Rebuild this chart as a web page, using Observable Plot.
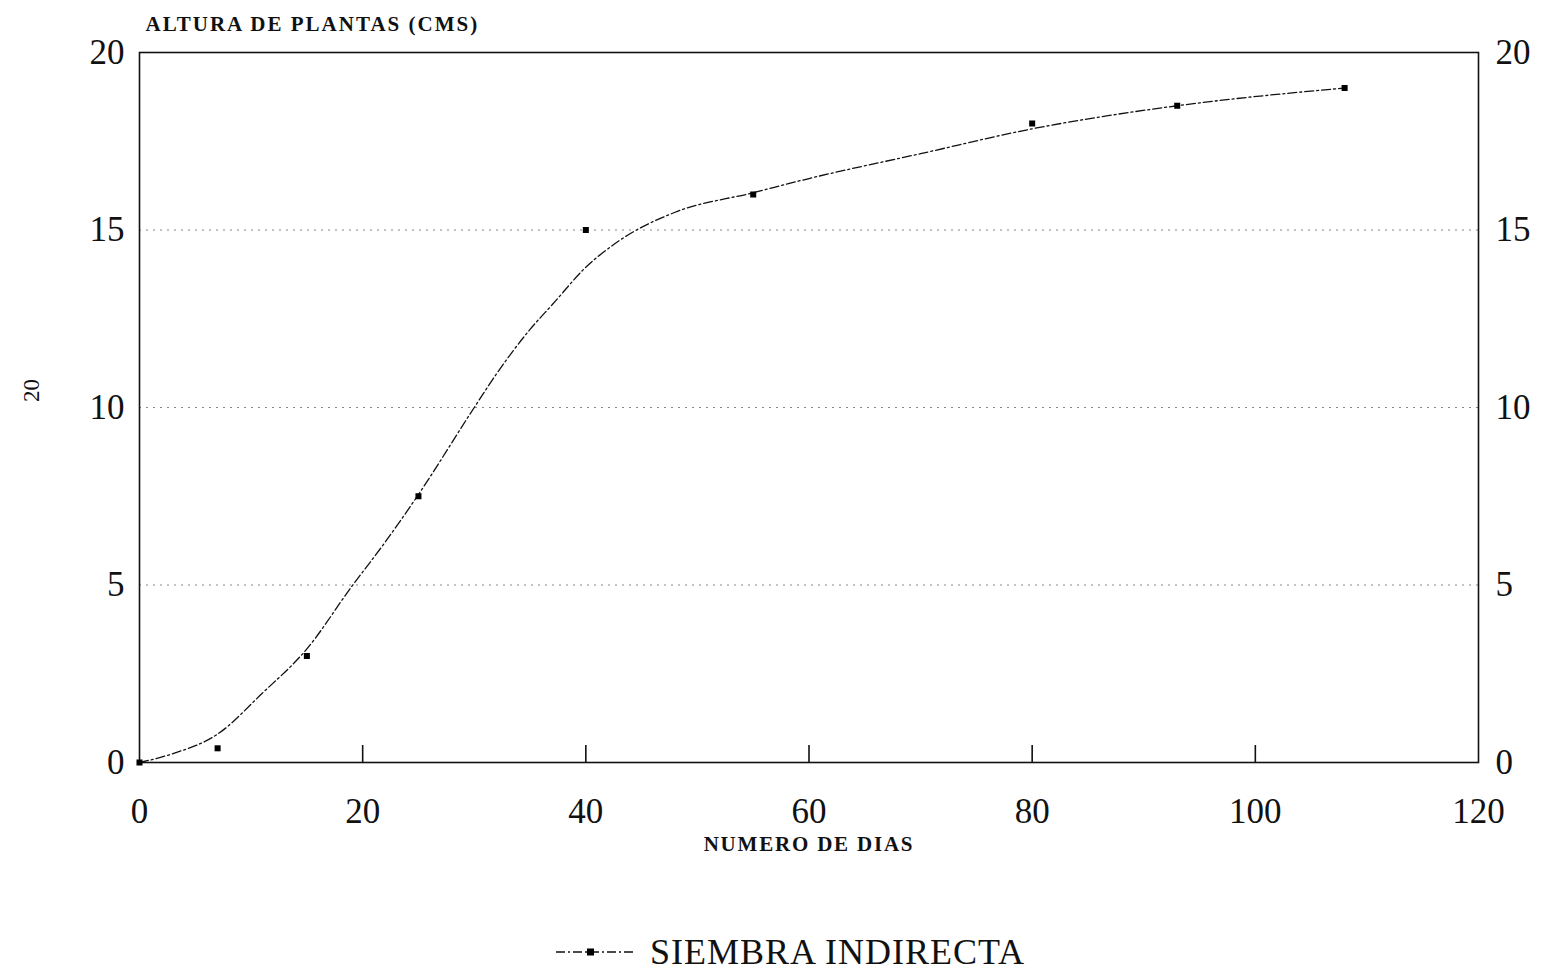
<!DOCTYPE html>
<html>
<head>
<meta charset="utf-8">
<script src="https://cdn.jsdelivr.net/npm/d3@7"></script>
<script src="https://cdn.jsdelivr.net/npm/@observablehq/plot@0.6"></script>
<style>
  body { margin: 0; background: #fff; }
  #chart { width: 1547px; }
  .legend { height: 51px; padding-top: 6px; padding-left: 32px; display: flex; align-items: center; justify-content: center; font-family: "Liberation Serif", serif; font-size: 36px; letter-spacing: 1px; color: #111; }
  .legend svg { margin-right: 12px; }
</style>
</head>
<body>
<div id="chart"></div>
<script>
// Observed points: days vs plant height (cm)
const days    = [0, 7, 15, 25, 40, 55, 80, 93, 108];
const heights = [0, 0.4, 3, 7.5, 15, 16, 18, 18.5, 19];

// Fitted smooth curve
const curveDays    = [0, 3, 7, 11, 15, 19, 22, 25, 30, 32, 35, 37, 40, 43, 48, 55, 60, 70, 80, 93, 108];
const curveHeights = [0, 0.25, 0.8, 1.95, 3.2, 4.95, 6.2, 7.55, 10.0, 10.95, 12.2, 12.9, 13.95, 14.7, 15.5, 16.05, 16.45, 17.15, 17.85, 18.5, 19.0];

const xTicks = [0, 20, 40, 60, 80, 100, 120];
const xInnerTicks = [20, 40, 60, 80, 100];
const yTicks = [0, 5, 10, 15, 20];
const gridY = [5, 10, 15];

const titleText = "ALTURA DE PLANTAS (CMS)";
const xLabelText = "NUMERO DE DIAS";
const sideLabel = "20";
const seriesName = "SIEMBRA INDIRECTA";

const points = days.map((d, i) => ({day: d, h: heights[i]}));
const fitted = curveDays.map((d, i) => ({day: d, h: curveHeights[i]}));

const serif = "Liberation Serif, serif";

const chart = Plot.plot({
  width: 1547,
  height: 920,
  marginLeft: 139,
  marginRight: 69,
  marginTop: 52,
  marginBottom: 158,
  style: {fontFamily: serif, background: "#fff", color: "#111"},
  x: {domain: [0, 120]},
  y: {domain: [0, 20]},
  marks: [
    Plot.ruleY(gridY, {stroke: "#888", strokeWidth: 1, strokeDasharray: "2,5"}),
    Plot.frame({stroke: "#111", strokeWidth: 1.6}),
    Plot.ruleX(xInnerTicks, {stroke: "#111", strokeWidth: 1.6, insetTop: 693}),
    Plot.axisX(xTicks, {anchor: "bottom", tickSize: 0, tickPadding: 36, fontSize: 35, tickFormat: d => String(d), label: null}),
    Plot.axisY(yTicks, {anchor: "left", tickSize: 0, tickPadding: 15, fontSize: 35, label: null}),
    Plot.axisY(yTicks, {anchor: "right", tickSize: 0, tickPadding: 17, fontSize: 35, label: null}),
    Plot.line(fitted, {x: "day", y: "h", curve: "monotone-x", stroke: "#111", strokeWidth: 1.3, strokeDasharray: "9,3,2,3"}),
    Plot.dot(points, {x: "day", y: "h", symbol: "square", r: 3.4, fill: "#000"}),
    Plot.text([titleText], {frameAnchor: "top-left", textAnchor: "start", dx: 6, dy: -36, fontSize: 21, fontWeight: "bold", fill: "#111"}),
    Plot.text([xLabelText], {frameAnchor: "bottom", dx: 0, dy: 88, fontSize: 21, fontWeight: "bold", fill: "#111"}),
    Plot.text([sideLabel], {frameAnchor: "left", textAnchor: "middle", dx: -108, dy: -17, rotate: -90, fontSize: 23, fill: "#111"})
  ]
});
document.getElementById("chart").appendChild(chart);

// letter spacing for the plotter-style labels
d3.select(chart).selectAll("text").each(function() {
  const t = this.textContent;
  if (t === titleText) this.setAttribute("letter-spacing", "2px");
  else if (t === xLabelText) this.setAttribute("letter-spacing", "1.8px");
});

const legend = document.createElement("div");
legend.className = "legend";
legend.innerHTML = `<svg width="84" height="20"><line x1="2" y1="10" x2="82" y2="10" stroke="#111" stroke-width="1.3" stroke-dasharray="9,3,2,3"/><rect x="33" y="6.5" width="7" height="7" fill="#000"/></svg><span>${seriesName}</span>`;
document.getElementById("chart").appendChild(legend);
</script>
</body>
</html>
